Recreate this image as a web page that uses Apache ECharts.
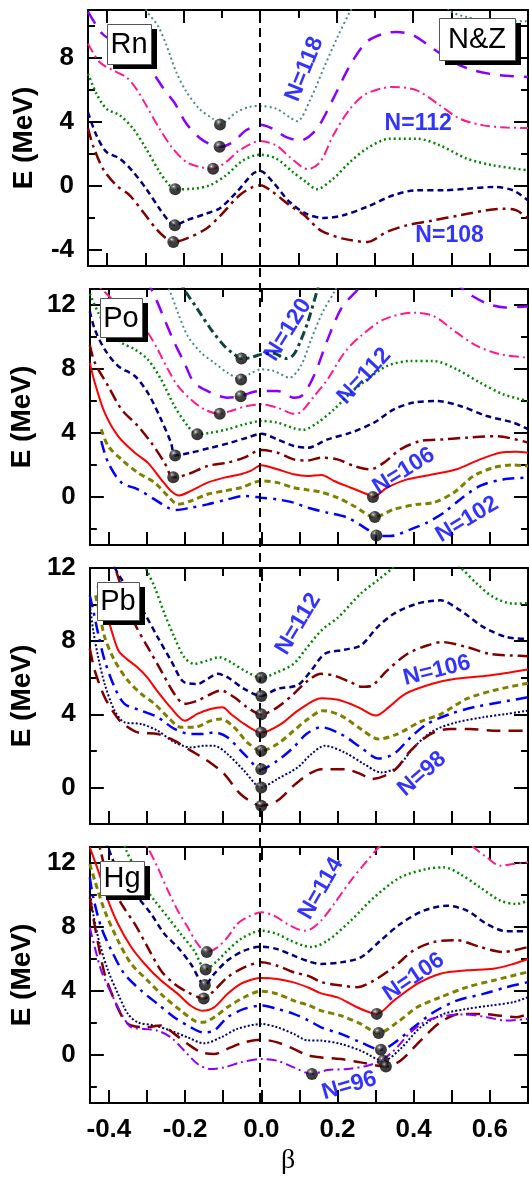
<!DOCTYPE html>
<html><head><meta charset="utf-8">
<script src="https://cdn.jsdelivr.net/npm/echarts@6/dist/echarts.min.js"></script>
<style>html,body{margin:0;padding:0;background:#fff}#c{width:529px;height:1180px}</style>
</head><body><div id="c"></div>
<script>
// ---------- axis ticks ----------
const xMajor = [-0.4, -0.2, 0, 0.2, 0.4, 0.6];
const xMinor = [-0.3, -0.1, 0.1, 0.3, 0.5];
const yMins = [-5, -3, -2, -3];
const yMaxs = [11, 13, 12, 13];
const yMajor = [[-4, 0, 4, 8], [0, 4, 8, 12], [0, 4, 8, 12], [0, 4, 8, 12]];
const yMinor = [[-2, 2, 6, 10], [-2, 2, 6, 10], [2, 6, 10], [-2, 2, 6, 10]];
const elements = ['Rn', 'Po', 'Pb', 'Hg'];

// ---------- Rn ----------
const rn118 = [[-0.36,14.5],[-0.298,11.0],[-0.267,10.0],[-0.245,8.8],[-0.219,7.1],[-0.193,5.9],[-0.158,4.8],[-0.124,4.2],[-0.105,3.85],[-0.063,4.6],[-0.028,4.95],[0,5.0],[0.042,4.83],[0.077,4.3],[0.097,4.05],[0.131,5.4],[0.165,7.3],[0.2,9.2],[0.235,10.9],[0.28,12.8],[0.35,13.8],[0.43,12.6],[0.5,10.9],[0.54,10.56],[0.592,10.35],[0.7,10.3]];
const rn116 = [[-0.45,10.9],[-0.412,9.5],[-0.38,9.0],[-0.35,8.6],[-0.31,8.0],[-0.278,7.0],[-0.25,6.0],[-0.224,5.2],[-0.193,3.9],[-0.158,3.0],[-0.13,2.6],[-0.106,2.45],[-0.071,2.75],[-0.037,3.48],[0,3.83],[0.033,3.58],[0.068,3.06],[0.105,2.85],[0.148,3.58],[0.191,5.46],[0.235,7.54],[0.278,9.0],[0.322,9.52],[0.357,9.63],[0.4,9.42],[0.452,8.58],[0.505,7.75],[0.557,7.23],[0.627,6.92],[0.7,6.81]];
const rn114 = [[-0.45,8.9],[-0.42,7.75],[-0.385,7.23],[-0.35,6.8],[-0.324,6.08],[-0.298,5.04],[-0.263,3.58],[-0.228,2.33],[-0.193,1.5],[-0.158,1.19],[-0.123,1.08],[-0.089,1.5],[-0.054,2.23],[0,2.81],[0.042,2.54],[0.077,1.81],[0.125,1.05],[0.157,1.5],[0.191,3.17],[0.235,4.83],[0.278,5.77],[0.348,6.19],[0.409,5.98],[0.47,5.04],[0.522,4.2],[0.583,3.79],[0.644,3.65],[0.7,3.63]];
const rn112 = [[-0.45,7.02],[-0.428,5.77],[-0.402,4.83],[-0.367,4.42],[-0.332,3.58],[-0.298,2.33],[-0.263,0.88],[-0.237,0.04],[-0.222,-0.2],[-0.176,-0.17],[-0.132,0.04],[-0.089,0.67],[-0.045,1.6],[0,1.96],[0.042,1.71],[0.085,0.88],[0.12,0.25],[0.148,-0.2],[0.191,0.46],[0.235,1.5],[0.278,2.33],[0.339,2.96],[0.409,2.96],[0.47,2.54],[0.54,1.71],[0.609,1.29],[0.7,0.98]];
const rn110 = [[-0.45,4.6],[-0.428,3.17],[-0.402,2.13],[-0.367,1.71],[-0.332,0.88],[-0.298,-0.17],[-0.263,-1.42],[-0.237,-2.25],[-0.223,-2.45],[-0.193,-2.15],[-0.141,-1.73],[-0.106,-1.4],[-0.062,-0.4],[-0.019,0.77],[0,0.94],[0.033,0.25],[0.077,-1.0],[0.12,-1.73],[0.167,-2.0],[0.217,-1.83],[0.278,-1.31],[0.348,-0.58],[0.409,-0.27],[0.479,-0.27],[0.54,-0.17],[0.609,-0.06],[0.661,-0.27],[0.7,-0.9]];
const rn108 = [[-0.45,3.6],[-0.437,2.54],[-0.411,1.08],[-0.376,0.04],[-0.341,-0.58],[-0.306,-1.63],[-0.272,-2.67],[-0.245,-3.29],[-0.227,-3.5],[-0.193,-3.29],[-0.141,-2.67],[-0.106,-1.9],[-0.054,-0.58],[-0.019,-0.06],[0,0.04],[0.033,-0.38],[0.077,-1.21],[0.114,-1.8],[0.158,-2.77],[0.217,-3.29],[0.281,-3.5],[0.33,-2.88],[0.383,-2.46],[0.452,-2.15],[0.522,-1.83],[0.592,-1.52],[0.635,-1.42],[0.67,-1.52],[0.7,-2.04]];
const rnBalls = [[-0.222,-0.2],[-0.223,-2.45],[-0.227,-3.5],[-0.123,1.08],[-0.106,2.45],[-0.105,3.85]];
const rnNotes = [['N=118',0.116,7.3,68],['N=112',0.413,3.9,0],['N=108',0.495,-3.08,0]];

// ---------- Po ----------
const po120 = [[-0.25,15],[-0.2,12.9],[-0.167,11.73],[-0.132,10.48],[-0.097,9.44],[-0.071,8.92],[-0.052,8.65],[-0.028,8.71],[0,8.92],[0.03,9.0],[0.066,8.65],[0.085,8.9],[0.104,9.8],[0.123,11.0],[0.143,12.6],[0.165,14.5]];
const po118 = [[-0.3,15.5],[-0.241,12.9],[-0.219,11.52],[-0.193,10.06],[-0.158,9.02],[-0.124,8.4],[-0.089,7.77],[-0.053,7.35],[-0.028,7.73],[0,7.98],[0.033,7.88],[0.074,7.46],[0.104,8.2],[0.131,9.85],[0.16,11.5],[0.193,12.9],[0.22,14.3]];
const po116 = [[-0.33,15],[-0.276,12.35],[-0.254,11.1],[-0.228,9.65],[-0.202,8.4],[-0.176,7.15],[-0.132,6.52],[-0.089,6.21],[-0.054,6.3],[-0.028,6.52],[0,6.63],[0.042,6.63],[0.087,6.2],[0.11,6.4],[0.14,7.67],[0.176,9.96],[0.211,11.83],[0.246,12.77],[0.3,14],[0.4,14.5],[0.5,13.5],[0.554,12.56],[0.598,12.04],[0.64,11.85],[0.7,11.9]];
const po114 = [[-0.45,13.7],[-0.406,12.7],[-0.36,11.6],[-0.32,10.8],[-0.298,10.27],[-0.272,9.23],[-0.245,7.98],[-0.219,6.94],[-0.185,6.1],[-0.15,5.48],[-0.109,5.2],[-0.08,5.38],[-0.037,5.69],[0,5.79],[0.042,5.58],[0.087,5.2],[0.104,5.3],[0.139,6.31],[0.174,7.35],[0.218,9.02],[0.261,10.06],[0.322,11.1],[0.4,11.52],[0.452,11.31],[0.513,10.27],[0.566,9.44],[0.627,8.92],[0.7,8.71]];
const po112 = [[-0.45,12.7],[-0.428,11.52],[-0.402,10.48],[-0.367,9.65],[-0.332,9.23],[-0.298,8.6],[-0.263,7.35],[-0.228,5.69],[-0.193,4.44],[-0.168,3.92],[-0.132,4.02],[-0.089,4.23],[-0.045,4.54],[0,4.75],[0.042,4.65],[0.085,4.3],[0.11,4.2],[0.148,4.65],[0.191,5.48],[0.235,6.52],[0.278,7.35],[0.33,8.19],[0.392,8.5],[0.452,8.5],[0.513,7.98],[0.574,7.15],[0.635,6.42],[0.7,6.0]];
const po110 = [[-0.45,11.6],[-0.437,10.48],[-0.411,9.23],[-0.376,8.19],[-0.332,7.56],[-0.298,6.52],[-0.263,4.85],[-0.237,3.4],[-0.226,2.6],[-0.185,2.77],[-0.132,3.08],[-0.08,3.4],[-0.037,3.71],[0,3.95],[0.042,3.6],[0.085,3.19],[0.122,3.08],[0.174,3.6],[0.235,4.02],[0.296,4.65],[0.348,5.48],[0.4,5.9],[0.461,6.0],[0.522,5.69],[0.592,5.06],[0.661,4.65],[0.7,4.23]];
const po108 = [[-0.45,9.5],[-0.437,8.4],[-0.402,6.94],[-0.367,5.48],[-0.324,4.44],[-0.289,3.4],[-0.254,2.15],[-0.231,1.23],[-0.193,1.42],[-0.141,1.94],[-0.089,2.15],[-0.045,2.46],[0,2.94],[0.042,2.77],[0.085,2.35],[0.12,2.28],[0.157,2.46],[0.2,2.35],[0.243,1.94],[0.285,1.73],[0.322,2.15],[0.365,2.98],[0.418,3.5],[0.479,3.6],[0.54,3.71],[0.616,3.8],[0.7,3.4]];
const po106 = [[-0.45,8.4],[-0.437,7.15],[-0.411,5.27],[-0.376,3.81],[-0.332,2.77],[-0.298,2.15],[-0.263,1.1],[-0.237,0.38],[-0.215,0.1],[-0.185,0.38],[-0.141,0.9],[-0.097,1.21],[-0.054,1.42],[-0.028,1.63],[0,1.98],[0.042,1.73],[0.085,1.42],[0.12,1.31],[0.158,1.38],[0.191,1.0],[0.235,0.58],[0.278,0.17],[0.293,0.0],[0.33,0.58],[0.383,1.1],[0.452,1.42],[0.513,1.73],[0.574,2.35],[0.627,2.77],[0.67,2.83],[0.7,2.77]];
const po104 = [[-0.42,4.23],[-0.402,3.19],[-0.367,2.35],[-0.324,1.52],[-0.28,0.9],[-0.245,0.06],[-0.219,-0.46],[-0.185,-0.25],[-0.141,0.17],[-0.097,0.38],[-0.054,0.58],[0,1.0],[0.042,0.9],[0.085,0.58],[0.12,0.45],[0.157,0.3],[0.2,-0.04],[0.243,-0.56],[0.298,-1.25],[0.348,-0.77],[0.409,-0.46],[0.452,-0.35],[0.505,0.27],[0.557,1.31],[0.609,1.83],[0.661,2.0],[0.7,1.94]];
const po102 = [[-0.42,3.5],[-0.402,2.15],[-0.367,0.9],[-0.324,0.48],[-0.28,-0.15],[-0.245,-0.67],[-0.224,-0.81],[-0.185,-0.67],[-0.141,-0.46],[-0.089,-0.15],[-0.045,0.06],[0,-0.04],[0.042,-0.15],[0.085,-0.35],[0.122,-0.67],[0.174,-0.98],[0.226,-1.29],[0.278,-2.02],[0.302,-2.4],[0.339,-2.44],[0.392,-2.02],[0.435,-1.6],[0.479,-0.98],[0.522,-0.15],[0.574,0.69],[0.635,1.1],[0.7,1.21]];
const poBalls = [[-0.052,8.65],[-0.053,7.35],[-0.054,6.3],[-0.109,5.2],[-0.168,3.92],[-0.226,2.6],[-0.231,1.23],[0.293,0.0],[0.298,-1.25],[0.302,-2.4]];
const poNotes = [['N=120',0.07,10.45,58],['N=112',0.27,7.56,47],['N=106',0.374,1.63,32],['N=102',0.54,-1.4,31]];

// ---------- Pb ----------
const pb112 = [[-0.34,14],[-0.302,11.96],[-0.28,10.96],[-0.254,9.5],[-0.228,8.22],[-0.202,7.12],[-0.176,6.76],[-0.141,6.94],[-0.111,7.12],[-0.08,6.85],[-0.037,6.3],[0,6.0],[0.042,6.3],[0.085,6.76],[0.114,7.49],[0.158,8.59],[0.202,9.3],[0.261,10.6],[0.305,11.32],[0.348,12.05],[0.4,13],[0.47,13],[0.522,12.05],[0.566,11.14],[0.609,10.41],[0.661,10.05],[0.7,10.08]];
const pb110 = [[-0.42,13.5],[-0.376,11.69],[-0.341,10.6],[-0.306,9.5],[-0.272,8.22],[-0.237,6.94],[-0.202,5.75],[-0.167,5.66],[-0.141,5.94],[-0.115,6.21],[-0.089,6.03],[-0.045,5.39],[0,5.0],[0.042,5.39],[0.096,5.6],[0.131,6.39],[0.167,7.31],[0.218,7.53],[0.261,7.76],[0.305,8.77],[0.348,9.5],[0.409,10.05],[0.47,10.23],[0.522,9.68],[0.583,8.77],[0.644,8.22],[0.7,8.13]];
const pb108 = [[-0.41,13],[-0.385,12.05],[-0.359,10.41],[-0.332,8.95],[-0.298,7.67],[-0.263,6.39],[-0.228,5.11],[-0.202,4.57],[-0.167,4.75],[-0.132,5.11],[-0.106,5.3],[-0.071,4.93],[-0.037,4.38],[0,4.0],[0.042,4.38],[0.085,5.11],[0.122,5.84],[0.157,6.21],[0.191,6.12],[0.235,5.75],[0.264,5.5],[0.29,5.57],[0.33,6.39],[0.383,7.3],[0.435,7.76],[0.475,7.95],[0.54,7.67],[0.6,7.3],[0.661,7.21],[0.7,7.18]];
const pb106 = [[-0.43,11],[-0.41,9.8],[-0.397,8.86],[-0.375,7.49],[-0.353,7.03],[-0.326,6.58],[-0.3,6.03],[-0.274,5.3],[-0.238,4.38],[-0.2,3.65],[-0.168,4.02],[-0.133,4.29],[-0.102,4.38],[-0.08,4.02],[-0.045,3.47],[0,3.0],[0.052,3.47],[0.096,4.2],[0.158,4.88],[0.202,4.79],[0.255,4.38],[0.301,3.93],[0.334,4.38],[0.378,5.12],[0.449,5.67],[0.51,5.94],[0.598,6.12],[0.7,6.45]];
const pb104 = [[-0.435,10.5],[-0.424,9.5],[-0.411,8.22],[-0.385,6.94],[-0.35,5.84],[-0.315,5.11],[-0.28,4.57],[-0.245,3.84],[-0.211,3.29],[-0.176,3.29],[-0.132,3.65],[-0.106,3.74],[-0.071,3.29],[-0.037,2.47],[0,2.0],[0.042,2.37],[0.085,3.1],[0.12,3.7],[0.162,4.2],[0.209,3.93],[0.261,3.2],[0.308,2.65],[0.357,2.92],[0.418,3.6],[0.47,4.0],[0.54,4.85],[0.609,5.3],[0.7,5.7]];
const pb102 = [[-0.45,10.5],[-0.441,9.68],[-0.428,8.4],[-0.411,6.94],[-0.385,5.48],[-0.359,4.57],[-0.315,4.2],[-0.272,3.84],[-0.228,3.2],[-0.185,2.92],[-0.15,2.92],[-0.124,3.01],[-0.089,2.74],[-0.045,1.83],[0,1.0],[0.042,1.46],[0.085,2.2],[0.12,2.95],[0.158,3.29],[0.209,2.92],[0.261,2.19],[0.308,1.58],[0.348,1.83],[0.392,2.74],[0.435,3.47],[0.496,4.02],[0.557,4.38],[0.627,4.66],[0.7,4.93]];
const pb100 = [[-0.45,10],[-0.441,8.58],[-0.428,7.12],[-0.411,5.66],[-0.385,4.2],[-0.359,3.56],[-0.315,3.47],[-0.272,3.1],[-0.228,2.47],[-0.185,2.19],[-0.15,2.28],[-0.124,2.28],[-0.089,1.83],[-0.045,0.91],[0,0.0],[0.042,0.46],[0.096,1.1],[0.13,1.8],[0.167,2.28],[0.218,1.92],[0.27,1.28],[0.313,0.82],[0.357,1.1],[0.4,2.19],[0.452,3.1],[0.513,3.56],[0.583,3.84],[0.644,4.02],[0.7,4.2]];
const pb98 = [[-0.45,7.6],[-0.437,6.39],[-0.411,4.93],[-0.385,4.02],[-0.367,3.56],[-0.324,3.01],[-0.272,2.92],[-0.228,2.56],[-0.185,2.01],[-0.141,1.46],[-0.097,0.73],[-0.054,-0.37],[0,-1.0],[0.042,-0.73],[0.085,0.1],[0.122,0.7],[0.158,1.0],[0.218,1.0],[0.261,0.73],[0.29,0.46],[0.348,0.91],[0.392,2.01],[0.444,2.92],[0.496,3.2],[0.548,3.2],[0.609,3.1],[0.7,3.1]];
const pbBalls = [[0,6],[0,5],[0,4],[0,3],[0,2],[0,1],[0,0],[0,-1]];
const pbNotes = [['N=112',0.097,8.94,59],['N=106',0.461,6.39,14],['N=98',0.422,0.73,41]];

// ---------- Hg ----------
const hg114 = [[-0.34,15],[-0.298,12.98],[-0.272,11.73],[-0.245,10.27],[-0.219,9.02],[-0.193,7.98],[-0.167,6.94],[-0.143,6.43],[-0.115,6.73],[-0.089,7.35],[-0.063,8.19],[-0.037,8.6],[0,8.92],[0.033,8.71],[0.068,8.19],[0.094,7.88],[0.114,7.77],[0.131,7.88],[0.157,8.4],[0.191,9.44],[0.235,10.9],[0.278,12.15],[0.313,13.1],[0.38,14.5],[0.48,14.5],[0.557,12.98],[0.592,12.35],[0.627,11.83],[0.661,11.94],[0.7,12.04]];
const hg112 = [[-0.37,14],[-0.354,12.77],[-0.332,11.73],[-0.306,10.48],[-0.28,9.65],[-0.245,8.6],[-0.211,7.56],[-0.176,6.52],[-0.146,5.35],[-0.115,5.9],[-0.089,6.52],[-0.054,7.25],[-0.019,7.67],[0,7.77],[0.042,7.56],[0.077,7.15],[0.111,6.83],[0.132,6.75],[0.174,7.15],[0.235,8.4],[0.296,9.85],[0.365,11.1],[0.435,11.63],[0.479,11.73],[0.522,11.31],[0.574,10.48],[0.627,9.65],[0.67,9.44],[0.7,9.65]];
const hg110 = [[-0.42,14],[-0.402,12.98],[-0.385,11.94],[-0.359,10.9],[-0.324,9.85],[-0.289,8.81],[-0.254,7.56],[-0.219,6.73],[-0.185,5.69],[-0.148,4.37],[-0.124,5.06],[-0.089,5.9],[-0.045,6.52],[0,6.77],[0.042,6.62],[0.085,6.21],[0.125,5.85],[0.157,5.69],[0.209,5.79],[0.261,6.1],[0.313,7.15],[0.365,8.19],[0.426,9.02],[0.487,9.33],[0.54,9.02],[0.592,8.19],[0.644,7.73],[0.7,7.73]];
const hg108 = [[-0.44,14],[-0.424,12.98],[-0.411,11.73],[-0.393,10.69],[-0.367,9.44],[-0.332,8.19],[-0.298,6.73],[-0.263,5.27],[-0.228,4.44],[-0.193,3.92],[-0.151,3.53],[-0.124,4.02],[-0.089,4.85],[-0.045,5.48],[0,5.79],[0.042,5.58],[0.085,5.17],[0.125,4.93],[0.157,4.56],[0.209,4.35],[0.252,4.24],[0.296,4.66],[0.348,5.5],[0.4,6.54],[0.452,7.06],[0.513,7.17],[0.574,6.75],[0.635,6.44],[0.7,6.75]];
const hg106 = [[-0.45,12.98],[-0.428,11.52],[-0.402,9.65],[-0.376,8.19],[-0.341,6.73],[-0.306,5.69],[-0.263,4.65],[-0.219,3.82],[-0.185,3.08],[-0.155,2.77],[-0.124,2.98],[-0.089,3.81],[-0.054,4.44],[-0.019,4.75],[0,4.81],[0.042,4.75],[0.085,4.54],[0.125,4.2],[0.157,3.85],[0.2,3.6],[0.25,3.0],[0.28,2.7],[0.303,2.57],[0.348,3.4],[0.409,4.44],[0.47,5.08],[0.54,5.29],[0.609,5.39],[0.661,5.69],[0.7,6.0]];
const hg104 = [[-0.45,11.94],[-0.437,10.9],[-0.411,9.02],[-0.376,7.15],[-0.341,5.69],[-0.298,4.65],[-0.254,3.61],[-0.211,2.77],[-0.176,2.15],[-0.154,2.04],[-0.124,2.35],[-0.089,2.98],[-0.045,3.61],[0,3.99],[0.042,3.82],[0.085,3.4],[0.125,3.1],[0.157,2.77],[0.209,2.46],[0.261,1.94],[0.308,1.37],[0.357,2.04],[0.409,2.98],[0.47,3.61],[0.54,4.24],[0.609,4.66],[0.7,5.19]];
const hg102 = [[-0.45,11.1],[-0.441,9.85],[-0.42,7.98],[-0.393,6.52],[-0.359,5.06],[-0.315,4.02],[-0.272,3.19],[-0.228,2.35],[-0.185,1.73],[-0.154,1.42],[-0.124,1.52],[-0.089,2.35],[-0.045,2.88],[0,3.09],[0.042,2.88],[0.085,2.57],[0.125,2.15],[0.157,1.73],[0.209,1.32],[0.261,0.79],[0.314,0.33],[0.357,0.9],[0.4,1.73],[0.452,2.67],[0.513,3.4],[0.583,3.82],[0.644,4.24],[0.7,4.55]];
const hg100 = [[-0.45,10.27],[-0.441,8.81],[-0.424,6.94],[-0.402,5.27],[-0.376,3.82],[-0.35,2.57],[-0.324,2.04],[-0.28,1.84],[-0.237,1.52],[-0.193,1.1],[-0.15,0.73],[-0.106,1.1],[-0.063,1.63],[0,1.94],[0.042,1.73],[0.085,1.32],[0.12,0.92],[0.157,0.9],[0.209,0.69],[0.261,0.27],[0.32,-0.36],[0.365,0.38],[0.418,1.73],[0.479,2.57],[0.54,2.88],[0.6,3.09],[0.661,3.3],[0.7,3.61]];
const hg98 = [[-0.45,9.85],[-0.441,8.6],[-0.428,6.94],[-0.411,5.06],[-0.385,3.4],[-0.359,2.15],[-0.341,1.84],[-0.306,1.73],[-0.263,1.84],[-0.228,1.32],[-0.193,0.69],[-0.158,0.17],[-0.124,0.06],[-0.089,0.38],[-0.045,0.79],[0,0.96],[0.042,0.79],[0.085,0.38],[0.12,0.0],[0.157,-0.15],[0.209,-0.25],[0.261,-0.46],[0.327,-0.72],[0.365,-0.36],[0.418,0.9],[0.47,2.04],[0.522,2.57],[0.574,2.57],[0.627,2.46],[0.67,2.36],[0.7,2.57]];
const hg96 = [[-0.45,7.98],[-0.437,6.73],[-0.42,5.27],[-0.393,3.82],[-0.367,2.57],[-0.341,1.73],[-0.306,1.63],[-0.272,1.52],[-0.237,1.1],[-0.202,0.27],[-0.167,-0.56],[-0.132,-0.88],[-0.097,-0.77],[-0.054,-0.46],[0,-0.25],[0.042,-0.36],[0.085,-0.77],[0.133,-1.19],[0.174,-0.94],[0.226,-0.88],[0.278,-0.67],[0.313,-0.36],[0.348,0.27],[0.392,1.42],[0.435,2.15],[0.487,2.46],[0.54,2.53],[0.592,2.36],[0.644,2.15],[0.7,2.26]];
const hgBalls = [[-0.143,6.43],[-0.146,5.35],[-0.148,4.37],[-0.151,3.53],[0.303,2.57],[0.308,1.37],[0.314,0.33],[0.32,-0.36],[0.327,-0.72],[0.133,-1.19]];
const hgNotes = [['N=114',0.157,10.4,60],['N=106',0.4,4.87,34],['N=96',0.231,-1.92,16]];

const panelCurves = [
  [[118,rn118],[116,rn116],[114,rn114],[112,rn112],[110,rn110],[108,rn108]],
  [[120,po120],[118,po118],[116,po116],[114,po114],[112,po112],[110,po110],[108,po108],[106,po106],[104,po104],[102,po102]],
  [[112,pb112],[110,pb110],[108,pb108],[106,pb106],[104,pb104],[102,pb102],[100,pb100],[98,pb98]],
  [[114,hg114],[112,hg112],[110,hg110],[108,hg108],[106,hg106],[104,hg104],[102,hg102],[100,hg100],[98,hg98],[96,hg96]]
];
const panelBalls = [rnBalls, poBalls, pbBalls, hgBalls];
const panelNotes = [rnNotes, poNotes, pbNotes, hgNotes];

// ---------- styles ----------
const FONT = '"Liberation Sans", Arial, sans-serif';
const styleN = {
  120:{c:'#0b4640',t:[9,4,3,4],w:3},
  118:{c:'#4a8a8c',t:[2,3],w:2},
  116:{c:'#8a00ff',t:[14,10],w:2.5},
  114:{c:'#ff1a8c',t:[10,4,2,4],w:2},
  112:{c:'#008800',t:[2,3],w:2.5},
  110:{c:'#00007f',t:[6,4],w:2.5},
  108:{c:'#800000',t:[12,5,3,5],w:2.5},
  106:{c:'#ff0000',t:'solid',w:2},
  104:{c:'#808000',t:[6,4],w:3},
  102:{c:'#0000ff',t:[12,6,3,6],w:2.5},
  100:{c:'#00007f',t:[2,2],w:2},
  98:{c:'#800000',t:[14,8],w:2.5},
  96:{c:'#8a00ff',t:[10,4,2,4],w:2}
};
const gridTops = [10, 289, 568, 847];
const GH = 256;

const chart = echarts.init(document.getElementById('c'), null, {renderer:'canvas'});
const grids = [], xAxes = [], yAxes = [], series = [];
const line = {show:true, onZero:false, lineStyle:{color:'#000', width:2}};
const noLine = {show:false, onZero:false};
const ballColor = new echarts.graphic.RadialGradient(0.36, 0.3, 0.72, [
  {offset:0, color:'#f4f4f4'}, {offset:0.12, color:'#7a7a7a'}, {offset:0.38, color:'#161616'}, {offset:1, color:'#000000'}]);

for (let p = 0; p < 4; p++) {
  grids.push({left:88, right:1, top:gridTops[p], height:GH, containLabel:false});
  const last = p === 3;
  xAxes.push({type:'value', gridIndex:p, position:'bottom', min:-0.45, max:0.7, axisLine:line, splitLine:{show:false},
    axisTick:{show:true, inside:true, length:13, lineStyle:{width:2,color:'#000'}, customValues:xMajor.concat(xMinor)},
    axisLabel:{show:last, customValues:xMajor, margin:14, color:'#000', fontSize:26, fontWeight:'bold', fontFamily:FONT, formatter:v=>v.toFixed(1)}});
  xAxes.push({type:'value', gridIndex:p, position:'top', min:-0.45, max:0.7, axisLine:line, splitLine:{show:false},
    axisTick:{show:true, inside:true, length:13, lineStyle:{width:2,color:'#000'}, customValues:xMajor}, axisLabel:{show:false}});
  xAxes.push({type:'value', gridIndex:p, position:'top', min:-0.45, max:0.7, axisLine:noLine, splitLine:{show:false},
    axisTick:{show:true, inside:true, length:8, lineStyle:{width:2,color:'#000'}, customValues:xMinor}, axisLabel:{show:false}});
  const ymin = yMins[p], ymax = yMaxs[p];
  yAxes.push({type:'value', gridIndex:p, position:'left', min:ymin, max:ymax, axisLine:line, splitLine:{show:false},
    axisTick:{show:true, inside:true, length:14, lineStyle:{width:2,color:'#000'}, customValues:yMajor[p]},
    axisLabel:{show:true, customValues:yMajor[p], margin:14, color:'#000', fontSize:26, fontWeight:'bold', fontFamily:FONT},
    name:'E (MeV)', nameLocation:'middle', nameGap:50, nameRotate:90,
    nameTextStyle:{fontSize:28, fontWeight:'bold', fontFamily:FONT, color:'#000'}});
  yAxes.push({type:'value', gridIndex:p, position:'left', min:ymin, max:ymax, axisLine:noLine, splitLine:{show:false},
    axisTick:{show:true, inside:true, length:7, lineStyle:{width:2,color:'#000'}, customValues:yMinor[p]}, axisLabel:{show:false}});
  yAxes.push({type:'value', gridIndex:p, position:'right', min:ymin, max:ymax, axisLine:line, splitLine:{show:false},
    axisTick:{show:true, inside:true, length:14, lineStyle:{width:2,color:'#000'}, customValues:yMajor[p]}, axisLabel:{show:false}});
  yAxes.push({type:'value', gridIndex:p, position:'right', min:ymin, max:ymax, axisLine:noLine, splitLine:{show:false},
    axisTick:{show:true, inside:true, length:7, lineStyle:{width:2,color:'#000'}, customValues:yMinor[p]}, axisLabel:{show:false}});

  panelCurves[p].forEach(([n, data]) => {
    const s = styleN[n];
    series.push({type:'line', xAxisIndex:3*p, yAxisIndex:4*p, data:data, smooth:0.3, symbol:'none', clip:true, silent:true,
      lineStyle:{color:s.c, width:s.w, type:s.t}, z:2});
  });
  series.push({type:'scatter', xAxisIndex:3*p, yAxisIndex:4*p, data:panelBalls[p], symbol:'circle', symbolSize:12, silent:true,
    itemStyle:{color:ballColor}, z:5});
  series.push({type:'scatter', xAxisIndex:3*p, yAxisIndex:4*p, symbolSize:1, silent:true, z:6,
    itemStyle:{color:'rgba(0,0,0,0)'},
    data:panelNotes[p].map(([txt, b, e, r]) => ({value:[b, e], label:{show:true, position:'inside', formatter:txt, rotate:r,
      color:'#0000ff', fontSize:23, fontWeight:'bold', fontFamily:FONT}}))});
}
// overlay for the dashed beta = 0 line across the whole figure
grids.push({left:88, right:1, top:10, height:1092});
xAxes.push({type:'value', gridIndex:4, min:-0.45, max:0.7, show:false});
yAxes.push({type:'value', gridIndex:4, min:0, max:1, show:false});
series.push({type:'scatter', xAxisIndex:12, yAxisIndex:16, data:[], silent:true,
  markLine:{silent:true, symbol:'none', label:{show:false}, animation:false,
    lineStyle:{color:'#000', width:2, type:[9,6]}, data:[{xAxis:0}]}});

const boxes = [
  {t:'Rn', x:107, y:24, w:44, h:40},
  {t:'N&Z', x:439, y:18, w:76, h:42},
  {t:'Po', x:100, y:298, w:42, h:39},
  {t:'Pb', x:97, y:582, w:42, h:38},
  {t:'Hg', x:100, y:861, w:44, h:34}
];
const graphic = [];
boxes.forEach(b => {
  graphic.push({type:'rect', left:b.x + 6, top:b.y + 5, z:200, zlevel:1, shape:{width:b.w, height:b.h}, style:{fill:'#000'}});
  graphic.push({type:'rect', left:b.x, top:b.y, z:201, zlevel:1, shape:{width:b.w, height:b.h}, style:{fill:'#fff', stroke:'#555', lineWidth:1}});
  graphic.push({type:'text', z:202, zlevel:1, x:b.x + b.w/2, y:b.y + b.h/2 + 1,
    style:{text:b.t, font:'29px ' + FONT, fill:'#000', align:'center', verticalAlign:'middle', textAlign:'center', textVerticalAlign:'middle'}});
});
graphic.push({type:'text', left:281, top:1147, z:200, zlevel:1, style:{text:'β', font:'28px "Liberation Serif", serif', fill:'#000'}});

chart.setOption({animation:false, backgroundColor:'#fff', grid:grids, xAxis:xAxes, yAxis:yAxes, series:series, graphic:graphic});
</script></body></html>
